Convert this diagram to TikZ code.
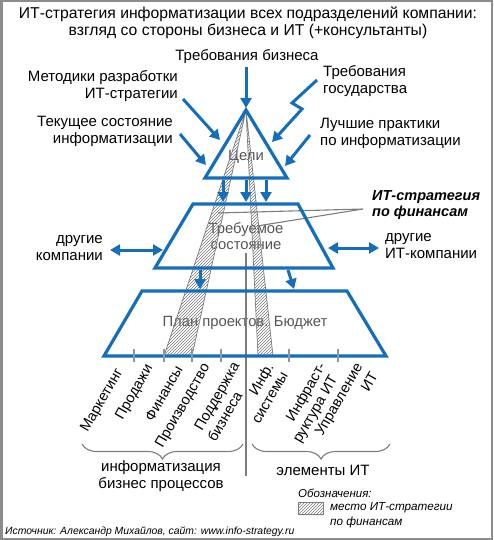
\documentclass[tikz,border=0pt]{standalone}
\usepackage{fontspec}
\setmainfont{Liberation Sans}
\usetikzlibrary{arrows.meta,patterns,decorations.pathreplacing}
\definecolor{bl}{RGB}{20,110,185}
\definecolor{tg}{RGB}{85,85,85}
\definecolor{framec}{RGB}{140,140,140}
\definecolor{tickc}{RGB}{140,150,165}
\definecolor{lg}{RGB}{125,125,125}
\begin{document}
\begin{tikzpicture}[x=1pt,y=-1pt,
  blueline/.style={draw=bl,line width=3.2pt,line join=miter},
  barrow/.style={draw=bl,line width=3pt,-{Triangle[length=10pt,width=11pt]}},
  dbarrow/.style={draw=bl,line width=3pt,{Triangle[length=10pt,width=11pt]}-{Triangle[length=10pt,width=11pt]}},
  lbl/.style={font=\fontsize{15}{17}\selectfont,inner sep=0pt},
  innertxt/.style={inner sep=0pt,font=\fontsize{14.8}{16}\selectfont,text=tg},
  rot/.style={font=\fontsize{14.5}{16}\selectfont,rotate=60,inner sep=0pt},
  hatch/.style={draw=lg,line width=0.7pt,pattern=north east lines,pattern color=lg},
  grayline/.style={draw=lg,line width=1.1pt},
  tickmark/.style={draw=tickc,line width=1.3pt},
  bracestyle/.style={draw=lg,line width=1.1pt,decorate,decoration={brace,mirror,amplitude=15pt}}]
\useasboundingbox (0,0) rectangle (493,540);
\fill[white] (0,0) rectangle (493,540);
\draw[draw=framec,line width=2.5pt] (1.25,1.25) rectangle (491.75,538.75);

% title
\node[lbl,font=\fontsize{15.7}{16.5}\selectfont,align=center] (title) at (248,23) {ИТ-стратегия информатизации всех подразделений компании:\\взгляд со стороны бизнеса и ИТ (+консультанты)};

% outer labels
\node[lbl] (biz) at (247,57) {Требования бизнеса};
\node[lbl,align=right,anchor=east] (meth) at (178,86) {Методики разработки\\ИТ-стратегии};
\node[lbl,align=left,anchor=west] (gov) at (323,81.5) {Требования\\государства};
\node[lbl,align=right,anchor=east] (cur) at (173,131.5) {Текущее состояние\\информатизации};
\node[lbl,align=left,anchor=west] (best) at (320,133) {Лучшие практики\\по информатизации};
\node[lbl,align=right,anchor=east] (oc) at (103,248) {другие\\компании};
\node[lbl,align=left,anchor=west] (oit) at (385,246) {другие\\ИТ-компании};
\node[lbl,font=\fontsize{14.5}{16}\selectfont\bfseries\itshape,align=left,anchor=west] (fin) at (372,205.5) {ИТ-стратегия\\по финансам};

% inner texts
\node[innertxt] (goals) at (246,157) {Цели};
\node[innertxt,align=center,font=\fontsize{14.8}{15.5}\selectfont] (req) at (246,236) {Требуемое\\состояние};
\node[innertxt] (plan) at (245,323) {План проектов. Бюджет};

% vertical separator and leader lines
\coordinate (vtop) at (246,253);
\coordinate (vbot) at (246,476);
\draw[grayline] (vtop) -- (vbot);
\coordinate (lead) at (363,209);
\coordinate (leadA) at (218,213);
\coordinate (leadB) at (257,226);
\draw[grayline] (leadA) -- (lead) -- (leadB);

% hatched strips
\coordinate (apex) at (246,110);
\draw[hatch] (apex) -- (164,356) -- (192,356) -- cycle;
\draw[hatch] (apex) -- (258,356) -- (273,356) -- cycle;

% pyramid levels
\draw[blueline] (apex) -- (287,178) -- (205,178) -- cycle;
\draw[blueline] (193,204) -- (298,204) -- (333,268) -- (155,268) -- cycle;
\draw[blueline] (142,291) -- (347,291) -- (386,356) -- (104,356) -- cycle;

% ticks
\foreach \tx in {134,164,192,221,289,338}
  \draw[tickmark] (\tx,349) -- (\tx,362);

% arrows into goals
\draw[barrow] (246,67) -- (246,108);
\draw[barrow] (183,99) -- (220,140);
\draw[barrow] (180,134) -- (206,165);
\draw[barrow] (317,80) -- (292,103) -- (302,109) -- (272,142);
\draw[barrow] (310,135) -- (285,166);
% goals -> required state
\draw[barrow] (223,180) -- (223,202);
\draw[barrow] (246,180) -- (246,202);
\draw[barrow] (266,180) -- (266,202);
% side double arrows
\draw[dbarrow] (110,250) -- (163,250);
\draw[dbarrow] (328,248) -- (379,248);
% required state -> plan
\draw[barrow] (200,270) -- (200,289);
\draw[barrow] (288,270) -- (294,289);

% rotated area labels
\node[rot,anchor=east] (r1) at (120,370) {Маркетинг};
\node[rot,anchor=east] (r2) at (150,366) {Продажи};
\node[rot,anchor=east] (r3) at (179,367) {Финансы};
\node[rot,anchor=east] (r4) at (207,365) {Производство};
\node[rot,anchor=east] (r5a) at (237,364) {Поддержка};
\node[rot,anchor=west] (r5b) at (211,440) {бизнеса};
\node[rot,anchor=east] (r6a) at (271,365) {Инф.};
\node[rot,anchor=east] (r6b) at (285,373) {системы};
\node[rot,anchor=east] (r7a) at (323,364) {Инфраст-};
\node[rot,anchor=east] (r7b) at (335,377) {руктура ИТ};
\node[rot,anchor=east] (r8a) at (360,365) {Управление};
\node[rot,anchor=east] (r8b) at (374,373) {ИТ};

% braces
\draw[bracestyle] (82,444) -- (243,444);
\draw[bracestyle] (252,444) -- (390,444);
\node[lbl,align=center] (bp) at (161,476) {информатизация\\бизнес процессов};
\node[lbl] (eit) at (323,470) {элементы ИТ};

% legend
\node[font=\fontsize{11.5}{13}\selectfont\itshape,anchor=west,inner sep=0pt] (legt) at (298,493) {Обозначения:};
\node[hatch,minimum width=25pt,minimum height=12pt,anchor=north west,inner sep=0pt] (legbox) at (298,502) {};
\node[font=\fontsize{11.7}{15}\selectfont\itshape,align=left,anchor=west,inner sep=0pt] (legtxt) at (330,515) {место ИТ-стратегии\\по финансам};
\node[font=\fontsize{10.4}{12}\selectfont\itshape,anchor=west,inner sep=0pt] (src) at (5,532) {Источник: Александр Михайлов, сайт: www.info-strategy.ru};
\end{tikzpicture}
\end{document}
